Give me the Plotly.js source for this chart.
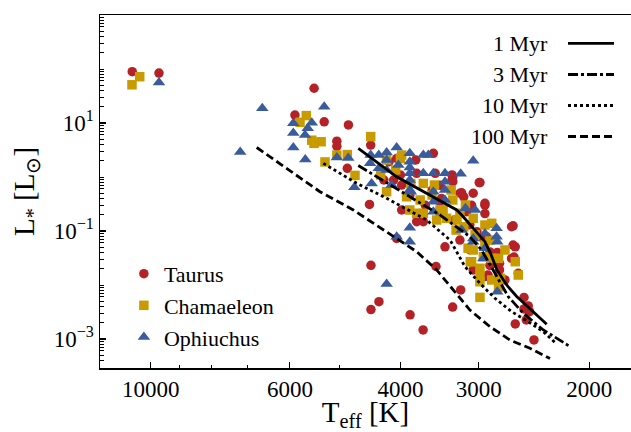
<!DOCTYPE html>
<html>
<head>
<meta charset="utf-8">
<script src="https://cdn.plot.ly/plotly-3.0.1.min.js"></script>
<style>
html,body{margin:0;padding:0;background:#fff}
#chart{width:631px;height:432px}
</style>
</head>
<body>
<div id="chart"></div>
<script>
// ---- Data (Teff in K, luminosity in L_sun) ----
const taurusT = [10700,9700,5490,5890,5290,4840,5050,5050,4460,4860,4480,3544,4170,3780,3768,3310,3310,2987,3981,4100,3215,3062,3170,3560,3459,3440,2933,3080,2933,3981,3137,3459,3677,3768,2660,3020,2950,4055,3396,3510,4456,2880,2820,2624,2660,2645,2645,2933,3062,2900,2725,2595,3206,3302,2541,2502,2541,2490,2520,2624,2450,4327,4456,3860,3680,2780,3195,2933,3300,2995,4055,4250,2636,2803,3520,3300,2915,3864,3650,3275,3100,3459,4000,3215,3100,2880,2780];
const taurusL = [89,84,44,14,10.5,9.2,4.6,3.7,3.9,1.45,0.31,2.75,1.92,2.07,1.17,1.09,0.88,0.79,0.71,0.88,0.50,0.50,0.43,0.57,0.35,0.40,0.30,0.30,0.21,0.245,0.228,0.213,0.149,0.149,0.12,0.097,0.073,0.073,0.051,0.022,0.0232,0.041,0.025,0.051,0.031,0.055,0.125,0.0143,0.019,0.0153,0.0124,0.0165,0.0081,0.0039,0.0059,0.0041,0.0036,0.0032,0.00225,0.0019,0.00096,0.0049,0.0035,0.0028,0.00147,0.0252,0.51,0.326,0.82,0.79,2.2,0.88,0.033,0.04,1.17,1.0,0.078,0.46,0.30,0.16,0.13,0.70,1.09,0.068,0.045,0.023,0.019];

const chamT = [10410,10710,5650,5781,5537,5492,5350,5275,4860,5050,4725,4460,3981,4207,4000,3677,4207,3850,3560,3910,3864,3677,3420,3375,3062,3250,3170,2933,2861,3300,3215,3120,3080,2950,2790,2624,2595,2987,2770,3062,2861,3095,2987,2861,2987,2790,2987,3768,3459,4070,3530,3320,3720,3150,3500,3040,2880,2725,3260,4300,2933];
const chamL = [72,51,13.7,10.3,4.8,4.2,4.5,1.9,2.6,2.55,1.07,5.6,2.55,2.07,2.2,0.76,0.534,0.76,0.464,0.43,0.245,0.213,0.245,0.172,0.172,0.16,0.12,0.129,0.139,0.375,0.213,0.048,0.027,0.0334,0.0312,0.027,0.0153,0.0143,0.0133,0.0445,0.0312,0.027,0.0204,0.0124,0.0115,0.0093,0.0059,0.213,0.245,1.35,0.71,0.574,0.375,0.303,0.16,0.085,0.068,0.0445,0.104,1.09,0.055];

const ophT = [9700,7200,6640,5290,5925,5537,5925,5676,5620,5925,5670,5050,4843,4735,4461,4330,4207,4055,3864,3677,3610,3062,4470,4330,4207,4030,3864,3864,3864,3864,3677,3544,3396,3206,3396,4445,4130,3864,3396,3544,3544,3396,3150,3040,3544,3195,3062,2810,2810,2933,3864,4055,3864,2933,2950,3062,2803,2803,4207,4207,3850];
const ophL = [56,2.9,18.7,20,9.9,10.1,6.5,6.0,8.0,3.5,2.1,2.3,2.25,0.645,2.55,2.55,2.85,3.5,2.75,2.55,2.55,2.0,1.79,1.45,2.07,1.67,1.92,1.5,1.17,0.88,1.17,1.17,1.17,1.15,0.82,0.76,0.71,0.574,0.574,0.534,0.349,0.375,0.263,0.245,0.228,0.104,0.073,0.112,0.078,0.09,0.115,0.078,0.063,0.048,0.031,0.063,0.063,0.0075,0.0104,1.35,0.534];

// Isochrones
const iso1T = [4668,4055,3253,3194,2933,2879,2806,2708,2610,2471,2338];
const iso1L = [3.40,1.01,0.245,0.198,0.0634,0.0408,0.019,0.010,0.00612,0.00344,0.00187];
const iso3T = [4668,3864,3459,3099,2969,2827,2692,2548,2367,2147];
const iso3L = [1.63,0.432,0.198,0.0784,0.0445,0.0165,0.00607,0.0030,0.00147,0.000726];
const iso10T = [5307,4695,4207,3633,3334,3155,2987,2827,2659,2502,2367,2254];
const iso10L = [1.79,0.764,0.403,0.16,0.0681,0.0218,0.0107,0.00568,0.00321,0.00209,0.00136,0.000807];
const iso100T = [6777,5373,4754,4207,3768,3501,3295,3099,2879,2676,2486,2310];
const iso100L = [3.52,0.534,0.245,0.097,0.0414,0.019,0.00808,0.00344,0.00169,0.000958,0.000673,0.000436];

const groupNames = ['Taurus','Chamaeleon','Ophiuchus'];
const isoNames = ['1 Myr','3 Myr','10 Myr','100 Myr'];
const xTickVals = [10000,6000,4000,3000,2000];
const xTickText = ['10000','6000','4000','3000','2000'];
const xMinorVals = [9000,8000,7000,5000];
const yTickVals = [1e-3,1e-1,1e1,1e3];
const yTickText = ['10<sup>\u22123</sup>','10<sup>\u22121</sup>','10<sup>1</sup>','10<sup>3</sup>'];

// ---- Styles ----
const FONT = 'Liberation Serif';
const colors = ['#B42228','#C89C00','#3A5C9C'];
const symbols = ['circle','square','triangle-up'];
const sizes = [9.5,9.5,11];
const isoDash = ['solid','10px,3px,3px,3px','3px,3px','8px,4px'];

const yMinorVals = [];
for (let k = -4; k <= 2; k++) {
  for (let d = 1; d <= 9; d++) {
    if (d === 1 && Math.abs(k % 2) === 1) continue;
    yMinorVals.push(d * Math.pow(10, k));
  }
}

const markerData = [[taurusT,taurusL],[chamT,chamL],[ophT,ophL]];
const traces = markerData.map((d,i) => ({
  type:'scatter', mode:'markers', x:d[0], y:d[1], name:groupNames[i],
  marker:{color:colors[i], symbol:symbols[i], size:sizes[i], line:{width:0}},
  showlegend:true, hoverinfo:'skip'
}));
const isoData = [[iso1T,iso1L],[iso3T,iso3L],[iso10T,iso10L],[iso100T,iso100L]];
isoData.forEach((d,i) => traces.push({
  type:'scatter', mode:'lines', x:d[0], y:d[1], name:isoNames[i],
  line:{color:'#000', width:2.8, dash:isoDash[i]}, showlegend:false, hoverinfo:'skip'
}));

// Isochrone legend (text left, sample right) built with annotations and shapes
const legRowsY = [0.9198,0.8314,0.7436,0.6558];
const annotations = isoNames.map((n,i) => ({
  xref:'paper', yref:'paper', x:0.8475, y:legRowsY[i], xanchor:'right', yanchor:'middle',
  text:n, showarrow:false, font:{family:FONT, size:22, color:'#000'}
}));
const shapes = isoNames.map((n,i) => ({
  type:'line', xref:'paper', yref:'paper', x0:0.8814, x1:0.968, y0:legRowsY[i], y1:legRowsY[i],
  line:{color:'#000', width:2.8, dash:isoDash[i]}
}));

const layout = {
  width:631, height:432,
  margin:{l:100, r:0, t:15, b:64, pad:0},
  paper_bgcolor:'#fff', plot_bgcolor:'#fff',
  font:{family:FONT, size:22, color:'#000'},
  showlegend:true,
  legend:{x:0.045, y:0.326, xanchor:'left', yanchor:'top', bgcolor:'rgba(0,0,0,0)',
          font:{family:FONT, size:22, color:'#000'}, itemsizing:'trace', tracegroupgap:0},
  xaxis:{type:'log', range:[Math.log10(12044), Math.log10(1716)],
         tickmode:'array', tickvals:xTickVals, ticktext:xTickText,
         ticks:'inside', ticklen:6, tickwidth:1.2, tickcolor:'#000',
         minor:{tickmode:'array', tickvals:xMinorVals, ticks:'inside', ticklen:3.5, tickwidth:1, tickcolor:'#000', showgrid:false},
         showline:true, linecolor:'#000', linewidth:1.5, mirror:true,
         showgrid:false, zeroline:false, automargin:false,
         tickfont:{family:FONT, size:23},
         title:{text:'T<sub>eff</sub> [K]', font:{family:FONT, size:29}, standoff:2}},
  yaxis:{type:'log', range:[-3.537, 3],
         tickmode:'array', tickvals:yTickVals, ticktext:yTickText,
         ticks:'inside', ticklen:6, tickwidth:1.2, tickcolor:'#000',
         minor:{tickmode:'array', tickvals:yMinorVals, ticks:'inside', ticklen:3.5, tickwidth:1, tickcolor:'#000', showgrid:false},
         showline:true, linecolor:'#000', linewidth:1.5, mirror:false,
         showgrid:false, zeroline:false, automargin:false,
         tickfont:{family:FONT, size:23},
         title:{text:'L<sub>*</sub> [L<sub>\u2299</sub>]', font:{family:FONT, size:29}, standoff:10}},
  annotations:annotations, shapes:shapes
};

Plotly.newPlot('chart', traces, layout, {staticPlot:true, displayModeBar:false});
</script>
</body>
</html>
